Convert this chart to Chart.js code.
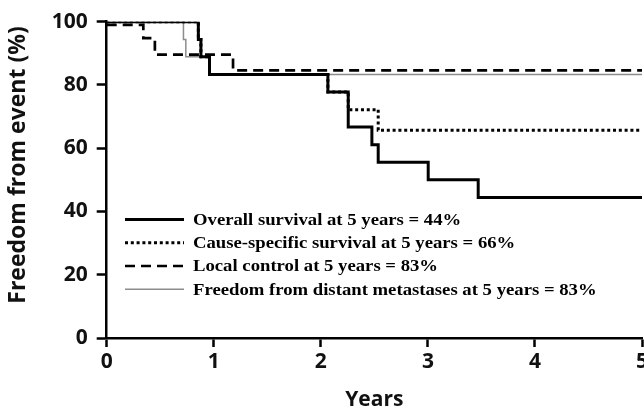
<!DOCTYPE html>
<html>
<head>
<meta charset="utf-8">
<script src="https://cdn.jsdelivr.net/npm/chart.js@4/dist/chart.umd.min.js"></script>
<style>
  html, body { margin: 0; padding: 0; background: #fff; }
  #wrap { width: 644px; height: 410px; }
</style>
</head>
<body>
<div id="wrap"><canvas id="c" width="644" height="410"></canvas></div>
<script>
// ---- Data ----
const xTickLabels = [0, 1, 2, 3, 4, 5];
const yTickLabels = [0, 20, 40, 60, 80, 100];
const xTitle = 'Years';
const yTitle = 'Freedom from event (%)';

const seriesNames = [
  'Overall survival at 5 years = 44%',
  'Cause-specific survival at 5 years = 66%',
  'Local control at 5 years = 83%',
  'Freedom from distant metastases at 5 years = 83%'
];

// Overall survival (step times in years, survival %)
const osYears  = [0, 0.856, 0.88, 0.96, 2.066, 2.256, 2.477, 2.536, 3.003, 3.47, 5];
const osValues = [100, 94.4, 88.9, 83.3, 77.8, 66.7, 61.1, 55.6, 50.0, 44.4, 44.4];

// Cause-specific survival
const cssYears  = [0, 0.856, 0.88, 0.96, 2.066, 2.256, 2.536, 5];
const cssValues = [100, 94.4, 88.9, 83.3, 77.8, 72.2, 65.7, 65.7];

// Local control
const lcYears  = [0, 0.342, 0.45, 1.18, 5];
const lcValues = [99.0, 94.8, 89.6, 84.6, 84.6];

// Freedom from distant metastases
const dmYears  = [0, 0.717, 0.739, 0.96, 5];
const dmValues = [100, 94.4, 88.9, 83.3, 83.3];

const toPts = (xs, ys) => xs.map((t, i) => ({ x: t, y: ys[i] }));

const legendPlugin = {
  id: 'insideLegend',
  afterDatasetsDraw(chart, args, opts) {
    const ctx = chart.ctx;
    ctx.save();
    chart.data.datasets.forEach((ds, i) => {
      const y = opts.rows[i];
      ctx.beginPath();
      ctx.setLineDash(ds.borderDash || []);
      ctx.lineWidth = ds.borderWidth;
      ctx.strokeStyle = ds.borderColor;
      ctx.lineCap = 'butt';
      ctx.moveTo(opts.lineX0, y);
      ctx.lineTo(opts.lineX1, y);
      ctx.stroke();
      ctx.setLineDash([]);
      ctx.save();
      ctx.translate(opts.textX, y + 1);
      ctx.scale(opts.stretch, 1);
      ctx.fillStyle = '#000';
      ctx.font = opts.font;
      ctx.textBaseline = 'middle';
      ctx.textAlign = 'left';
      ctx.fillText(ds.label, 0, 0);
      ctx.restore();
    });
    ctx.restore();
  }
};

const yTitlePlugin = {
  id: 'yTitle',
  afterDraw(chart, args, opts) {
    const ctx = chart.ctx;
    ctx.save();
    ctx.translate(opts.x, opts.y);
    ctx.rotate(-Math.PI / 2);
    ctx.fillStyle = '#111';
    ctx.font = opts.font;
    ctx.textAlign = 'center';
    ctx.textBaseline = 'middle';
    ctx.fillText(yTitle, 0, 0);
    ctx.restore();
  }
};

const tickFont = { family: "'Open Sans', sans-serif", size: 21, weight: 'bold' };

new Chart(document.getElementById('c'), {
  type: 'line',
  data: {
    datasets: [
      { label: seriesNames[0], data: toPts(osYears, osValues), borderColor: '#000', borderWidth: 3, stepped: 'before' },
      { label: seriesNames[1], data: toPts(cssYears, cssValues), borderColor: '#000', borderWidth: 3, borderDash: [3, 2.8], stepped: 'before' },
      { label: seriesNames[2], data: toPts(lcYears, lcValues), borderColor: '#000', borderWidth: 2.7, borderDash: [10, 6], stepped: 'before' },
      { label: seriesNames[3], data: toPts(dmYears, dmValues), borderColor: '#8c8c8c', borderWidth: 1.5, stepped: 'before' }
    ]
  },
  options: {
    responsive: false,
    animation: false,
    devicePixelRatio: 1,
    elements: { point: { radius: 0 } },
    layout: { padding: { left: 0, right: 2, top: 21.7, bottom: 0 } },
    plugins: {
      legend: { display: false },
      tooltip: { enabled: false },
      insideLegend: {
        rows: [219.5, 242.8, 266, 289.3],
        lineX0: 125, lineX1: 184, textX: 193, stretch: 1.1,
        font: "bold 17px 'Liberation Serif', 'Times New Roman', serif"
      },
      yTitle: { x: 18, y: 165, font: "bold 23px 'Open Sans', sans-serif" }
    },
    scales: {
      x: {
        type: 'linear', min: 0, max: 5,
        afterBuildTicks: s => { s.ticks = xTickLabels.map(v => ({ value: v })); },
        afterFit: s => { s.height = 72; s.paddingLeft = 0; s.paddingRight = 0; },
        border: { color: '#000', width: 2.5 },
        grid: { drawOnChartArea: false, drawTicks: true, tickLength: 9, tickWidth: 2.5, tickColor: '#000' },
        ticks: { color: '#111', font: tickFont, padding: 2, maxRotation: 0, autoSkip: false },
        title: { display: true, text: xTitle, color: '#111', font: { family: "'Open Sans', sans-serif", size: 21, weight: 'bold' }, padding: { top: 0, bottom: -3 } }
      },
      y: {
        type: 'linear', min: 0, max: 100,
        afterBuildTicks: s => { s.ticks = yTickLabels.map(v => ({ value: v })); },
        afterFit: s => { s.width = 106.7; s.paddingTop = 0; s.paddingBottom = 0; },
        border: { color: '#000', width: 2.5 },
        grid: { drawOnChartArea: false, drawTicks: true, tickLength: 10, tickWidth: 2.5, tickColor: '#000' },
        ticks: { color: '#111', font: tickFont, padding: 9, autoSkip: false },
        title: { display: false }
      }
    }
  },
  plugins: [legendPlugin, yTitlePlugin]
});
</script>
</body>
</html>
